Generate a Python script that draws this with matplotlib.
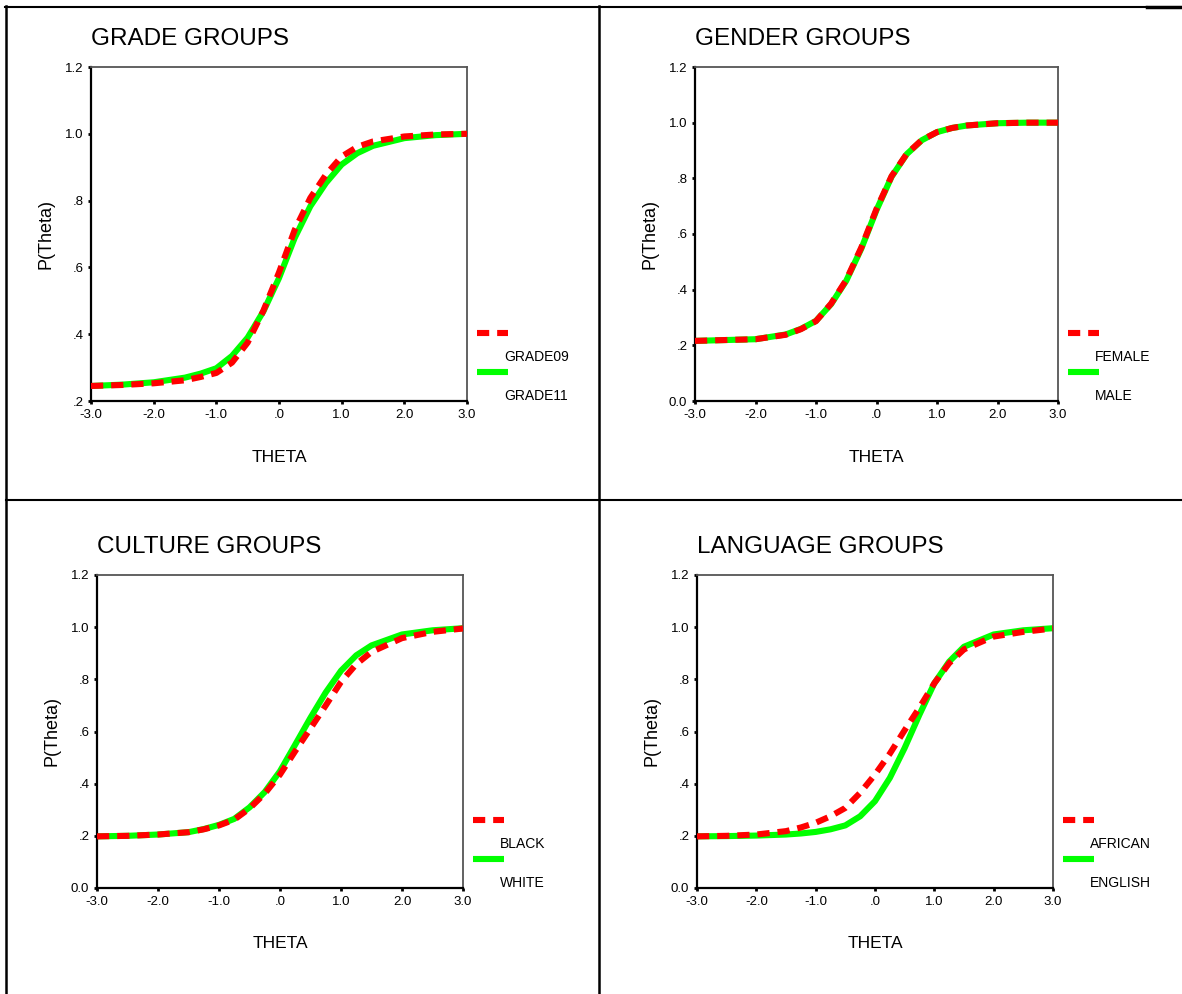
import matplotlib
matplotlib.use("Agg")
import matplotlib.pyplot as plt
from matplotlib.lines import Line2D

plt.rcParams['font.family'] = ['Liberation Sans', 'DejaVu Sans']

W, H = 1182, 994

# item characteristic curves
THETA = [-3.0, -2.5, -2.0, -1.5, -1.25, -1.0, -0.75, -0.5, -0.25, 0.0,
         0.25, 0.5, 0.75, 1.0, 1.25, 1.5, 2.0, 2.5, 3.0]

GRADE09 = [0.245, 0.248, 0.253, 0.262, 0.272, 0.284, 0.315, 0.375, 0.470, 0.585,
           0.712, 0.808, 0.878, 0.932, 0.961, 0.977, 0.992, 0.998, 1.000]
GRADE11 = [0.245, 0.249, 0.256, 0.270, 0.282, 0.298, 0.335, 0.390, 0.468, 0.568,
           0.688, 0.783, 0.853, 0.908, 0.942, 0.964, 0.987, 0.996, 1.000]

FEMALE = [0.216, 0.219, 0.222, 0.238, 0.258, 0.287, 0.350, 0.435, 0.552, 0.690,
          0.808, 0.888, 0.938, 0.966, 0.981, 0.990, 0.998, 1.000, 1.000]
MALE = [0.216, 0.219, 0.222, 0.239, 0.259, 0.288, 0.348, 0.432, 0.548, 0.686,
        0.806, 0.887, 0.937, 0.966, 0.981, 0.990, 0.998, 1.000, 1.000]

BLACK = [0.198, 0.200, 0.205, 0.214, 0.225, 0.240, 0.262, 0.305, 0.362, 0.435,
         0.525, 0.612, 0.700, 0.790, 0.858, 0.905, 0.958, 0.982, 0.995]
WHITE = [0.198, 0.200, 0.205, 0.214, 0.226, 0.242, 0.265, 0.309, 0.368, 0.448,
         0.550, 0.653, 0.750, 0.833, 0.892, 0.930, 0.972, 0.988, 0.996]

AFRICAN = [0.198, 0.200, 0.205, 0.218, 0.232, 0.250, 0.275, 0.307, 0.365, 0.435,
           0.515, 0.605, 0.692, 0.785, 0.862, 0.915, 0.964, 0.982, 0.995]
ENGLISH = [0.198, 0.199, 0.201, 0.205, 0.209, 0.215, 0.225, 0.240, 0.275, 0.333,
           0.422, 0.537, 0.665, 0.785, 0.868, 0.925, 0.972, 0.988, 0.996]

X_TICKS = [-3, -2, -1, 0, 1, 2, 3]
X_TICK_LABELS = ['-3.0', '-2.0', '-1.0', '.0', '1.0', '2.0', '3.0']
Y_TICKS_GRADE = [0.2, 0.4, 0.6, 0.8, 1.0, 1.2]
Y_LABELS_GRADE = ['.2', '.4', '.6', '.8', '1.0', '1.2']
Y_TICKS = [0.0, 0.2, 0.4, 0.6, 0.8, 1.0, 1.2]
Y_LABELS = ['0.0', '.2', '.4', '.6', '.8', '1.0', '1.2']

TITLES = ['GRADE GROUPS', 'GENDER GROUPS', 'CULTURE GROUPS', 'LANGUAGE GROUPS']
RED_NAMES = ['GRADE09', 'FEMALE', 'BLACK', 'AFRICAN']
GREEN_NAMES = ['GRADE11', 'MALE', 'WHITE', 'ENGLISH']
RED_SERIES = [GRADE09, FEMALE, BLACK, AFRICAN]
GREEN_SERIES = [GRADE11, MALE, WHITE, ENGLISH]
Y_TICK_SETS = [(Y_TICKS_GRADE, Y_LABELS_GRADE), (Y_TICKS, Y_LABELS),
               (Y_TICKS, Y_LABELS), (Y_TICKS, Y_LABELS)]

# plot boxes in pixels: left, top, right, bottom
BOXES = [(91, 67, 467, 401), (695, 67, 1058, 401),
         (97, 575, 463, 888), (697, 575, 1053, 888)]

RED = '#ff0000'
GREEN = '#00ff00'
LW = 4.4


def fx(x):
    return x / W


def fy(y):
    return 1 - y / H


fig = plt.figure(figsize=(W / 100, H / 100), dpi=100, facecolor='white')

for i in range(4):
    l, t, r, b = BOXES[i]
    ax = fig.add_axes([fx(l), fy(b), (r - l) / W, (b - t) / H])
    ax.plot(THETA, GREEN_SERIES[i], color=GREEN, lw=LW, solid_capstyle='butt',
            solid_joinstyle='round', zorder=2)
    ax.plot(THETA, RED_SERIES[i], color=RED, lw=LW, ls=(0, (2.0, 1.3)),
            dash_capstyle='butt', zorder=3)
    yt, yl = Y_TICK_SETS[i]
    ax.set_xlim(-3, 3)
    ax.set_ylim(yt[0], 1.2)
    ax.set_xticks(X_TICKS)
    ax.set_xticklabels(X_TICK_LABELS)
    ax.set_yticks(yt)
    ax.set_yticklabels(yl)
    ax.tick_params(direction='out', length=2.5, width=2, pad=3, labelsize=9.5,
                   colors='black')
    ax.spines['left'].set_linewidth(1.6)
    ax.spines['bottom'].set_linewidth(1.6)
    for s in ('top', 'right'):
        ax.spines[s].set_linewidth(1.3)
        ax.spines[s].set_color('#555555')

    fig.text(fx(l), fy(t - 28), TITLES[i], fontsize=17.5, ha='left', va='center')
    fig.text(fx(l - 45), fy((t + b) / 2), 'P(Theta)', rotation=90, fontsize=13,
             ha='center', va='center')
    fig.text(fx((l + r) / 2), fy(b + 56), 'THETA', fontsize=12.5, ha='center', va='center')

    # SPSS style legend: handle, then label underneath
    fig.add_artist(Line2D([fx(r + 10), fx(r + 41)], [fy(b - 68)] * 2, color=RED, lw=LW,
                          ls=(0, (2.0, 1.3)), dash_capstyle='butt'))
    fig.text(fx(r + 37), fy(b - 44), RED_NAMES[i], fontsize=10, ha='left', va='center')
    fig.add_artist(Line2D([fx(r + 10), fx(r + 41)], [fy(b - 29)] * 2, color=GREEN, lw=LW,
                          solid_capstyle='butt'))
    fig.text(fx(r + 37), fy(b - 5), GREEN_NAMES[i], fontsize=10, ha='left', va='center')

# table rules
fig.add_artist(Line2D([fx(5), fx(1147)], [fy(7)] * 2, color='black', lw=1.5))
fig.add_artist(Line2D([fx(1147), 1], [fy(7)] * 2, color='black', lw=2.5))
fig.add_artist(Line2D([fx(6)] * 2, [fy(6), 0], color='black', lw=1.8))
fig.add_artist(Line2D([fx(599)] * 2, [fy(6), 0], color='black', lw=1.8))
fig.add_artist(Line2D([fx(6), 1], [fy(500)] * 2, color='black', lw=1.5))

fig.savefig('out.png', dpi=100, facecolor='white')
